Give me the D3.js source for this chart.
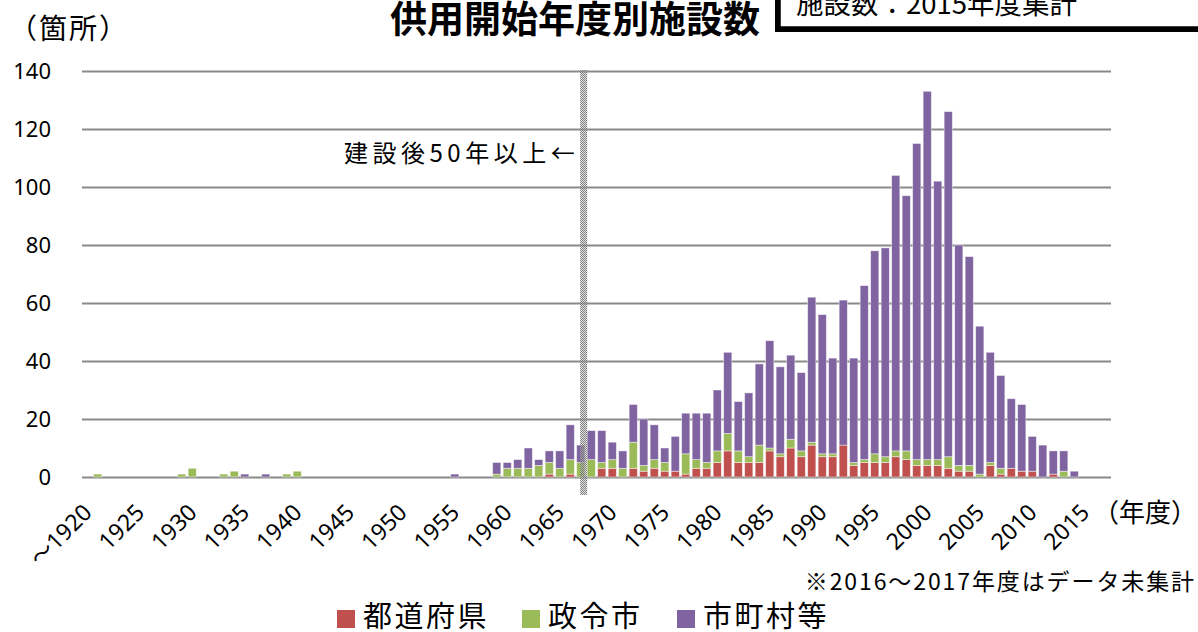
<!DOCTYPE html>
<html>
<head>
<meta charset="utf-8">
<script src="https://cdn.jsdelivr.net/npm/d3@7"></script>
<style>
  body { margin: 0; background: #fff; }
  text { font-family: "Noto Sans CJK JP", "Noto Sans", sans-serif; fill: #000; }
  .num { font-family: "Noto Sans", "Noto Sans CJK JP", sans-serif; }
</style>
</head>
<body>
<div id="chart"></div>
<script>
// Categories: fiscal years from ~1920 to 2017
var years = d3.range(1920, 2018).map(String);

// Labels shown on the x axis (every 5th year)
var tickYears = ["1920", "1925", "1930", "1935", "1940", "1945", "1950", "1955", "1960", "1965",
  "1970", "1975", "1980", "1985", "1990", "1995", "2000", "2005", "2010", "2015"];
var tickLabels = ["～1920", "1925", "1930", "1935", "1940", "1945", "1950", "1955", "1960", "1965",
  "1970", "1975", "1980", "1985", "1990", "1995", "2000", "2005", "2010", "2015"];

// 都道府県 (prefectures)
var prefValues = [
  0, 0, 0, 0, 0, 0, 0, 0, 0, 0,
  0, 0, 0, 0, 0, 0, 0, 0, 0, 0,
  0, 0, 0, 0, 0, 0, 0, 0, 0, 0,
  0, 0, 0, 0, 0, 0, 0, 0, 0, 0,
  0, 0, 0, 0, 1, 0, 1, 0, 0, 3,
  3, 0, 3, 2, 3, 2, 2, 1, 3, 3,
  5, 9, 5, 5, 5, 9, 7, 10, 7, 11,
  7, 7, 11, 4, 5, 5, 5, 7, 6, 4,
  4, 4, 3, 2, 2, 0, 4, 1, 3, 2,
  2, 0, 1, 0, 0, 0, 0, 0
];

// 政令市 (designated cities)
var cityValues = [
  0, 1, 0, 0, 0, 0, 0, 0, 0, 1,
  3, 0, 0, 1, 2, 0, 0, 0, 0, 1,
  2, 0, 0, 0, 0, 0, 0, 0, 0, 0,
  0, 0, 0, 0, 0, 0, 0, 0, 0, 1,
  3, 3, 3, 4, 4, 3, 5, 5, 6, 2,
  3, 3, 9, 2, 3, 3, 0, 7, 3, 2,
  4, 6, 4, 2, 6, 1, 1, 3, 2, 1,
  1, 1, 0, 1, 1, 3, 2, 2, 3, 2,
  2, 2, 4, 2, 2, 1, 1, 2, 0, 0,
  0, 0, 0, 2, 0, 0, 0, 0
];

// 市町村等 (municipalities etc.)
var townValues = [
  0, 0, 0, 0, 0, 0, 0, 0, 0, 0,
  0, 0, 0, 0, 0, 1, 0, 1, 0, 0,
  0, 0, 0, 0, 0, 0, 0, 0, 0, 0,
  0, 0, 0, 0, 0, 1, 0, 0, 0, 4,
  2, 3, 7, 2, 4, 6, 12, 6, 10, 11,
  6, 6, 13, 16, 12, 5, 12, 14, 16, 17,
  21, 28, 17, 22, 28, 37, 30, 29, 27, 50,
  48, 33, 50, 36, 60, 70, 72, 95, 88, 109,
  127, 96, 119, 76, 72, 51, 38, 32, 24, 23,
  12, 11, 8, 7, 2, 0, 0, 0
];

var seriesKeys = ["pref", "city", "town"];
var seriesNames = ["都道府県", "政令市", "市町村等"];
var seriesColors = ["#C0504D", "#9BBB59", "#8064A2"];
var yTicks = [0, 20, 40, 60, 80, 100, 120, 140];

// SVG size and plot area
var svgWidth = 1198;
var svgHeight = 632;
var plot = { left: 82, right: 1111, top: 71, bottom: 477 };

var svg = d3.select("#chart")
  .append("svg")
  .attr("width", svgWidth)
  .attr("height", svgHeight);

// Build rows for the stack
var rows = years.map(function(y, i) {
  return { year: y, pref: prefValues[i], city: cityValues[i], town: townValues[i] };
});

var xScale = d3.scaleBand()
  .domain(years)
  .range([plot.left, plot.right])
  .paddingInner(0.22)
  .paddingOuter(0.11);

var yScale = d3.scaleLinear()
  .domain([0, 140])
  .range([plot.bottom, plot.top]);

// Gridlines and y tick labels
var yAxis = d3.axisLeft(yScale)
  .tickValues(yTicks)
  .tickSize(-(plot.right - plot.left))
  .tickPadding(31);

var yAxisGroup = svg.append("g")
  .attr("transform", `translate(${plot.left}, 0)`)
  .call(yAxis);
yAxisGroup.select(".domain").remove();
yAxisGroup.selectAll(".tick line")
  .attr("stroke", "#898989")
  .attr("stroke-width", 1.8);
yAxisGroup.selectAll(".tick text")
  .attr("class", "num")
  .attr("font-size", 22)
  .attr("fill", "#000");

// Stacked bars
var stacked = d3.stack().keys(seriesKeys)(rows);

svg.append("g")
  .selectAll("g")
  .data(stacked)
  .enter()
  .append("g")
  .attr("fill", (d, i) => seriesColors[i])
  .selectAll("rect")
  .data(d => d.filter(p => p[1] > p[0]))
  .enter()
  .append("rect")
  .attr("x", d => xScale(d.data.year))
  .attr("y", d => yScale(d[1]))
  .attr("width", xScale.bandwidth())
  .attr("height", d => yScale(d[0]) - yScale(d[1]))
  .attr("stroke", "rgba(255,255,255,0.55)")
  .attr("stroke-width", 0.8);

// X axis labels, rotated
var xAxisGroup = svg.append("g");
xAxisGroup.selectAll("text")
  .data(tickYears)
  .enter()
  .append("text")
  .attr("class", "num")
  .attr("font-size", 23)
  .attr("text-anchor", "end")
  .attr("transform", d => `translate(${xScale(d) + xScale.bandwidth() / 2 + 6}, 514) rotate(-45)`)
  .text((d, i) => tickLabels[i]);

// 50-year marker line (dotted band)
var defs = svg.append("defs");
var pat = defs.append("pattern")
  .attr("id", "dots")
  .attr("width", 2)
  .attr("height", 2)
  .attr("patternUnits", "userSpaceOnUse");
pat.append("rect").attr("width", 2).attr("height", 2).attr("fill", "rgba(200,200,200,0.55)");
pat.append("rect").attr("width", 1).attr("height", 1).attr("fill", "rgba(90,90,90,0.7)");
pat.append("rect").attr("x", 1).attr("y", 1).attr("width", 1).attr("height", 1).attr("fill", "rgba(90,90,90,0.7)");

var markerX = xScale("1968");
svg.append("rect")
  .attr("x", markerX - 7)
  .attr("y", 70)
  .attr("width", 7)
  .attr("height", 425)
  .attr("fill", "url(#dots)");

svg.append("text")
  .attr("x", markerX - 8)
  .attr("y", 162)
  .attr("text-anchor", "end")
  .attr("font-size", 24)
  .attr("letter-spacing", 4.5)
  .text("建設後50年以上←");

// Title
svg.append("text")
  .attr("x", 575)
  .attr("y", 33)
  .attr("text-anchor", "middle")
  .attr("font-size", 37)
  .attr("font-weight", "bold")
  .text("供用開始年度別施設数");

// Note box at top right
svg.append("rect")
  .attr("x", 775)
  .attr("y", -10)
  .attr("width", 440)
  .attr("height", 42)
  .attr("fill", "#000");
svg.append("rect")
  .attr("x", 780)
  .attr("y", -12)
  .attr("width", 440)
  .attr("height", 39)
  .attr("fill", "#fff")
  .attr("stroke", "#000")
  .attr("stroke-width", 1.5);
svg.append("text")
  .attr("x", 796)
  .attr("y", 14)
  .attr("font-size", 27.5)
  .text("施設数：2015年度集計");

// Axis unit labels
svg.append("text")
  .attr("x", 9)
  .attr("y", 39)
  .attr("font-size", 28)
  .attr("letter-spacing", 2)
  .text("（箇所）");

svg.append("text")
  .attr("x", 1093)
  .attr("y", 522)
  .attr("font-size", 26)
  .text("（年度）");

// Footnote
svg.append("text")
  .attr("x", 1196)
  .attr("y", 590)
  .attr("text-anchor", "end")
  .attr("font-size", 23)
  .attr("letter-spacing", 1.9)
  .text("※2016～2017年度はデータ未集計");

// Legend
var legendX = [337, 522, 677];
var legend = svg.append("g");
seriesNames.forEach(function(name, i) {
  legend.append("rect")
    .attr("x", legendX[i])
    .attr("y", 610)
    .attr("width", 18)
    .attr("height", 18)
    .attr("fill", seriesColors[i]);
  legend.append("text")
    .attr("x", legendX[i] + 26)
    .attr("y", 627)
    .attr("font-size", 29)
    .attr("letter-spacing", 2.5)
    .text(name);
});
</script>
</body>
</html>
